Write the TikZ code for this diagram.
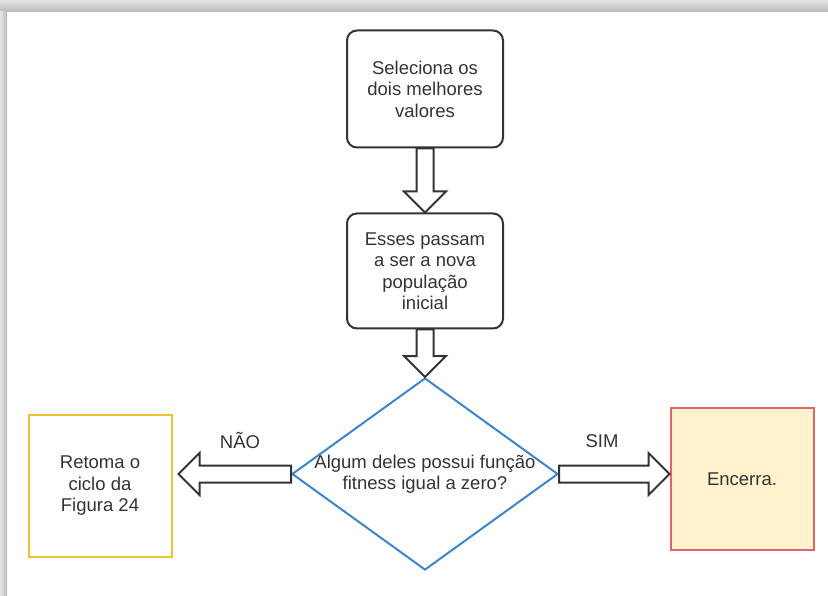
\documentclass[tikz,border=0pt]{standalone}
\usepackage{fontspec}
\setmainfont{Liberation Sans}
\usetikzlibrary{shapes.geometric,calc}
\definecolor{linegray}{HTML}{333333}
\definecolor{diablue}{HTML}{3D85C6}
\definecolor{retyellow}{HTML}{F1C232}
\definecolor{encred}{HTML}{E06666}
\definecolor{encfill}{HTML}{FFF2CC}

\begin{document}
\begin{tikzpicture}[x=1pt,y=-1pt,
    every node/.style={font=\fontsize{18.5}{21.5}\selectfont, text=linegray, align=center},
    stepbox/.style={draw=linegray, line width=2pt, rounded corners=10pt, inner sep=0pt,
      minimum width=156pt, minimum height=117pt},
    decision/.style={draw=diablue, line width=2pt, diamond, inner sep=0pt,
      minimum width=266pt, minimum height=192pt},
    endbox/.style={line width=2pt, inner sep=0pt, minimum width=143pt, minimum height=142pt},
    fatarrow/.style={draw=linegray, line width=2pt, fill=white,
      to path={($(\tikztostart)!8.5pt!90:(\tikztotarget)$)
        -- ($(\tikztotarget)!21pt!(\tikztostart)!8.5pt!90:(\tikztotarget)$)
        -- ($(\tikztotarget)!21pt!(\tikztostart)!21pt!90:(\tikztotarget)$)
        -- (\tikztotarget)
        -- ($(\tikztotarget)!21pt!(\tikztostart)!21pt!-90:(\tikztotarget)$)
        -- ($(\tikztotarget)!21pt!(\tikztostart)!8.5pt!-90:(\tikztotarget)$)
        -- ($(\tikztostart)!8.5pt!-90:(\tikztotarget)$) -- cycle}}]
    \useasboundingbox (0,0) rectangle (828,596);
    \fill[top color=gray!20, bottom color=gray!55] (0,0) rectangle (828,12);
    \fill[left color=gray!20, right color=gray!55] (0,12) rectangle (7,596);

    \node[stepbox] (sel) at (425,89) {Seleciona os\\dois melhores\\valores};
    \node[stepbox, minimum height=115pt] (pop) at (425,271) {Esses passam\\a ser a nova\\população\\inicial};
    \node[decision, label={[name=dectext]center:Algum deles possui função\\fitness igual a zero?}] (dec) at (425,474) {};
    \node[endbox, draw=retyellow] (ret) at (100,486) {Retoma o\\ciclo da\\Figura 24};
    \node[endbox, draw=encred, fill=encfill] (enc) at (742,479) {Encerra.};
    \node (nao) at (240,440) {NÃO};
    \node (sim) at (602,441) {SIM};

    \coordinate (retin) at ($(ret.east |- dec.west)+(6,0)$);
    \coordinate (encin) at (enc.west |- dec.east);
    \path (sel.south) edge[fatarrow] (pop.north);
    \path (pop.south) edge[fatarrow] (dec.north);
    \path (dec.west) edge[fatarrow] (retin);
    \path (dec.east) edge[fatarrow] (encin);
  \end{tikzpicture}
\end{document}
